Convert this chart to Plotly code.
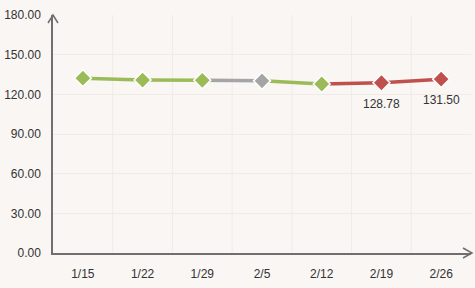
import plotly.graph_objects as go

dates = ["1/15", "1/22", "1/29", "2/5", "2/12", "2/19", "2/26"]
values = [132.2, 130.8, 130.6, 130.2, 127.8, 128.78, 131.50]
point_colors = ["#9bbb59", "#9bbb59", "#9bbb59", "#a5a5a5", "#9bbb59", "#c0504d", "#c0504d"]
labels = ["", "", "", "", "", "128.78", "131.50"]
y_ticks = [0, 30, 60, 90, 120, 150, 180]

fig = go.Figure()

# line segments coloured by the end point's colour
for i in range(1, len(dates)):
    fig.add_trace(go.Scatter(
        x=[dates[i - 1], dates[i]], y=[values[i - 1], values[i]],
        mode="lines", line=dict(color=point_colors[i], width=3.5),
        hoverinfo="skip", showlegend=False))

fig.add_trace(go.Scatter(
    x=dates, y=values, mode="markers",
    marker=dict(symbol="diamond", size=13, color=point_colors,
                line=dict(color="white", width=1.5)),
    showlegend=False))

for d, v, l in zip(dates, values, labels):
    if l:
        fig.add_annotation(x=d, y=v, text=l, showarrow=False, yshift=-21,
                           font=dict(size=12, color="#333333",
                                     family="Liberation Sans, Arial"))

axis_col = "#6f6f6f"
fig.update_layout(
    width=475, height=288,
    margin=dict(l=51, r=4, t=15, b=35),
    paper_bgcolor="#f9f6f3", plot_bgcolor="#f9f6f3",
    font=dict(family="Liberation Sans, Arial", size=12, color="#333333"),
    xaxis=dict(type="category", categoryorder="array", categoryarray=dates,
               range=[-0.5, len(dates) - 0.5],
               showgrid=False, showline=True, linecolor=axis_col, linewidth=1.5,
               ticks="", zeroline=False, fixedrange=True, ticklabelstandoff=9),
    yaxis=dict(range=[0, 180], tickvals=y_ticks, tickformat=".2f",
               showgrid=True, gridcolor="#efece8", gridwidth=1,
               showline=True, linecolor=axis_col, linewidth=1.5,
               zeroline=False, ticks="", ticklabelstandoff=8, fixedrange=True),
    shapes=[
        # vertical category dividers
        *[dict(type="line", xref="x", yref="paper", x0=i + 0.5, x1=i + 0.5,
               y0=0, y1=1, line=dict(color="#efece8", width=1), layer="below")
          for i in range(len(dates) - 1)],
        # y-axis arrow
        dict(type="path", xref="paper", yref="paper", xsizemode="pixel",
             ysizemode="pixel", xanchor=0, yanchor=1,
             path="M-5,-8 L0,0 L5,-8", line=dict(color=axis_col, width=1.5)),
        # x-axis arrow
        dict(type="path", xref="paper", yref="paper", xsizemode="pixel",
             ysizemode="pixel", xanchor=1, yanchor=0,
             path="M-8,5 L1,0 L-8,-5", line=dict(color=axis_col, width=1.5)),
    ],
)

fig.write_html("out.html")
